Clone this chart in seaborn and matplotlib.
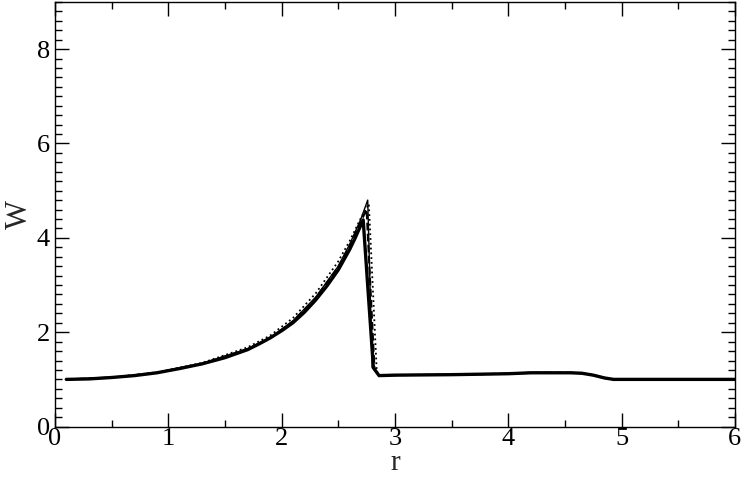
import numpy as np
import matplotlib.pyplot as plt
import seaborn as sns
from matplotlib.ticker import MultipleLocator

sns.set_theme(style="ticks")
plt.rcParams['font.family'] = ['Liberation Serif', 'DejaVu Serif']

# radius grid shared by the tail of every curve
r_tail = [2.86, 3.0, 3.5, 4.0, 4.2, 4.55, 4.65, 4.75, 4.85, 4.93, 5.5, 6.0]
w_tail = [1.08, 1.09, 1.10, 1.12, 1.14, 1.14, 1.13, 1.09, 1.03, 1.0, 1.0, 1.0]

# thick solid
r_a = [0.1, 0.3, 0.5, 0.7, 0.9, 1.1, 1.3, 1.5, 1.7, 1.8, 1.9, 2.0, 2.1, 2.2, 2.3,
       2.4, 2.5, 2.6, 2.65, 2.72, 2.81] + r_tail
w_a = [1.0, 1.01, 1.04, 1.08, 1.14, 1.23, 1.33, 1.46, 1.63, 1.75, 1.88, 2.03, 2.2,
       2.42, 2.68, 2.98, 3.32, 3.75, 4.0, 4.38, 1.25] + w_tail

# dashed
r_b = [0.1, 0.5, 0.9, 1.3, 1.7, 1.9, 2.1, 2.3, 2.5, 2.6, 2.7, 2.75, 2.82] + r_tail
w_b = [1.0, 1.04, 1.14, 1.33, 1.64, 1.87, 2.23, 2.72, 3.38, 3.82, 4.35, 4.6, 1.2] + w_tail

# dotted
r_c = [0.1, 0.5, 0.9, 1.3, 1.7, 1.9, 2.1, 2.3, 2.5, 2.6, 2.7, 2.77, 2.84] + r_tail
w_c = [1.0, 1.04, 1.15, 1.35, 1.68, 1.93, 2.3, 2.82, 3.5, 3.93, 4.42, 4.72, 1.15] + w_tail

# thin solid
r_d = [0.1, 0.5, 0.9, 1.3, 1.7, 1.9, 2.1, 2.3, 2.5, 2.6, 2.7, 2.76, 2.8] + r_tail
w_d = [1.0, 1.04, 1.14, 1.34, 1.65, 1.89, 2.24, 2.74, 3.4, 3.86, 4.4, 4.8, 1.25] + w_tail

fig, ax = plt.subplots(figsize=(7.43, 4.82), dpi=100)
fig.subplots_adjust(left=0.074, right=0.989, top=0.996, bottom=0.115)

sns.lineplot(x=r_c, y=w_c, ax=ax, color='black', linestyle=':', linewidth=1.3)
sns.lineplot(x=r_b, y=w_b, ax=ax, color='black', linestyle='--', linewidth=1.5)
sns.lineplot(x=r_d, y=w_d, ax=ax, color='black', linewidth=1.0)
sns.lineplot(x=r_a, y=w_a, ax=ax, color='black', linewidth=2.4)

ax.set_xlim(0, 6)
ax.set_ylim(0, 9)
ax.xaxis.set_major_locator(MultipleLocator(1))
ax.xaxis.set_minor_locator(MultipleLocator(0.5))
ax.yaxis.set_major_locator(MultipleLocator(2))
ax.yaxis.set_minor_locator(MultipleLocator(0.2))
ax.tick_params(which='both', direction='in', top=True, right=True, colors='black',
               labelsize=19, width=1.0)
ax.tick_params(which='major', length=10)
ax.tick_params(which='minor', length=5)
ax.tick_params(axis='x', pad=1)
for s in ax.spines.values():
    s.set_color('black')
    s.set_linewidth(1.0)
ax.set_xlabel('r', fontsize=21, labelpad=0)
ax.set_ylabel('W', fontsize=22, labelpad=2)

fig.savefig('out.png', dpi=100)
